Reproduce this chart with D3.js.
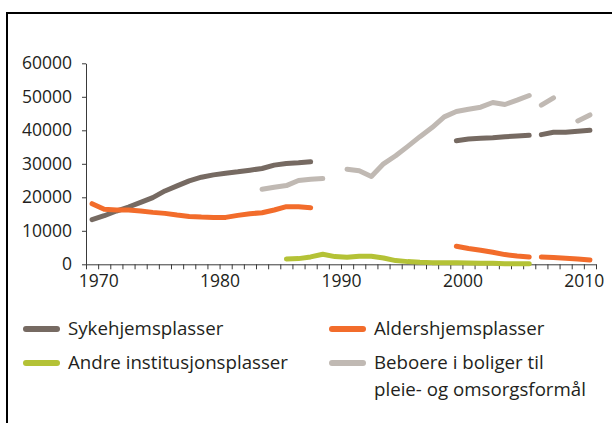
<!DOCTYPE html>
<html>
<head>
<meta charset="utf-8">
<script src="https://cdn.jsdelivr.net/npm/d3@7"></script>
<style>
  body { margin: 0; background: #fff; }
  text { font-family: "Open Sans", "Noto Sans", sans-serif; fill: #231f20; }
</style>
</head>
<body>
<svg id="chart"></svg>
<script>
// Years on the x axis (values sit in the middle of each year)
var years = [1969, 1970, 1971, 1972, 1973, 1974, 1975, 1976, 1977, 1978,
             1979, 1980, 1981, 1982, 1983, 1984, 1985, 1986, 1987, 1988,
             1989, 1990, 1991, 1992, 1993, 1994, 1995, 1996, 1997, 1998,
             1999, 2000, 2001, 2002, 2003, 2004, 2005, 2006, 2007, 2008,
             2009, 2010];

// Series values, one per year (null = no data)
var sykehjem = [13300, 14500, 15900, 17100, 18500, 19900, 21900, 23400, 24900, 26000,
                26700, 27200, 27600, 28100, 28600, 29600, 30100, 30300, 30600, null,
                null, null, null, null, null, null, null, null, null, null,
                36900, 37400, 37600, 37800, 38100, 38300, 38500, 38700, 39400, 39400,
                39700, 40000];

var alders = [18100, 16400, 16200, 16200, 15900, 15500, 15200, 14700, 14300, 14100,
              14000, 14000, 14600, 15100, 15400, 16200, 17200, 17200, 16900, null,
              null, null, null, null, null, null, null, null, null, null,
              5400, 4700, 4200, 3600, 2900, 2500, 2200, 2200, 2000, 1800,
              1600, 1300];

var andre = [null, null, null, null, null, null, null, null, null, null,
             null, null, null, null, null, null, 1600, 1700, 2200, 3000,
             2300, 2100, 2400, 2400, 1900, 1100, 800, 600, 500, 500,
             500, 400, 300, 300, 200, 200, 200, null, null, null,
             null, null];

var beboere = [null, null, null, null, null, null, null, null, null, null,
               null, null, null, null, 22400, 23000, 23500, 25000, 25400, 25600,
               null, 28400, 27900, 26200, 30000, 32400, 35200, 38100, 40800, 44000,
               45600, 46300, 46900, 48300, 47700, 49000, 50400, 47500, 49700, null,
               42800, 44600];

// break in the statistics: lines are not joined across this year
var breakYear = 2006;

var yTicks = [0, 10000, 20000, 30000, 40000, 50000, 60000];
var xLabelYears = [1970, 1980, 1990, 2000, 2010];

var seriesNames = ["Sykehjemsplasser", "Aldershjemsplasser", "Andre institusjonsplasser",
                   "Beboere i boliger til pleie- og omsorgsformål"];
var seriesValues = [sykehjem, alders, andre, beboere];
var seriesColors = ["#766a62", "#f26c2b", "#b4c236", "#c0b9b3"];

var svgWidth = 612, svgHeight = 423;

var svg = d3.select("#chart")
  .attr("width", svgWidth)
  .attr("height", svgHeight);

svg.append("rect").attr("width", svgWidth).attr("height", svgHeight).attr("fill", "#fff");

// frame round the figure
svg.append("path")
  .attr("d", "M7," + svgHeight + "V13H" + svgWidth)
  .attr("fill", "none")
  .attr("stroke", "#000")
  .attr("stroke-width", 2);

var xScale = d3.scaleLinear().domain([1969, 2011]).range([86, 596]);
var yScale = d3.scaleLinear().domain([0, 60000]).range([264.3, 63.3]);

// y axis
var yAxis = svg.append("g")
  .attr("transform", "translate(" + xScale(1969) + ",0)")
  .call(d3.axisLeft(yScale).tickValues(yTicks).tickSize(4).tickSizeOuter(0).tickFormat(d3.format("d")));
yAxis.select(".domain").attr("stroke", "#3a3a3a");
yAxis.selectAll(".tick line").attr("stroke", "#3a3a3a");
yAxis.selectAll(".tick text")
  .attr("x", -14)
  .attr("dy", "0.3em")
  .style("font-size", "17.5px")
  .attr("fill", "#231f20");

// x axis, one tick per year
var xAxis = svg.append("g")
  .attr("transform", "translate(0," + yScale(0) + ")")
  .call(d3.axisBottom(xScale)
    .tickValues(d3.range(1969, 2012))
    .tickSize(5)
    .tickSizeOuter(0)
    .tickFormat(function (d) { return xLabelYears.indexOf(d) >= 0 ? d : ""; }));
xAxis.select(".domain").attr("stroke", "#3a3a3a");
xAxis.selectAll(".tick line").attr("stroke", "#3a3a3a");
xAxis.selectAll(".tick text")
  .attr("y", 10)
  .style("font-size", "17.5px")
  .attr("fill", "#231f20");

// lines
var line = d3.line()
  .defined(function (d) { return d.v !== null; })
  .x(function (d) { return xScale(d.year + 0.5); })
  .y(function (d) { return yScale(d.v); });

seriesValues.forEach(function (values, i) {
  var pts = years.map(function (y, j) { return { year: y, v: values[j] }; });
  var before = pts.filter(function (d) { return d.year < breakYear; });
  var after = pts.filter(function (d) { return d.year >= breakYear; });
  [before, after].forEach(function (seg) {
    svg.append("path")
      .datum(seg)
      .attr("d", line)
      .attr("fill", "none")
      .attr("stroke", seriesColors[i])
      .attr("stroke-width", 5)
      .attr("stroke-linecap", "round")
      .attr("stroke-linejoin", "round");
  });
});

// legend
var legendPos = [
  { x: 24, y: 329 },
  { x: 330, y: 329 },
  { x: 24, y: 363 },
  { x: 330, y: 363 }
];
var legendLines = [
  ["Sykehjemsplasser"],
  ["Aldershjemsplasser"],
  ["Andre institusjonsplasser"],
  ["Beboere i boliger til", "pleie- og omsorgsformål"]
];

legendPos.forEach(function (p, i) {
  var g = svg.append("g").attr("transform", "translate(" + p.x + "," + p.y + ")");
  g.append("line")
    .attr("x1", 2).attr("x2", 33)
    .attr("stroke", seriesColors[i])
    .attr("stroke-width", 6)
    .attr("stroke-linecap", "round");
  var t = g.append("text")
    .attr("x", 44)
    .attr("y", 6)
    .style("font-size", "18.7px");
  legendLines[i].forEach(function (s, k) {
    t.append("tspan").attr("x", 44).attr("dy", k === 0 ? 0 : 27).text(s);
  });
});
</script>
</body>
</html>
